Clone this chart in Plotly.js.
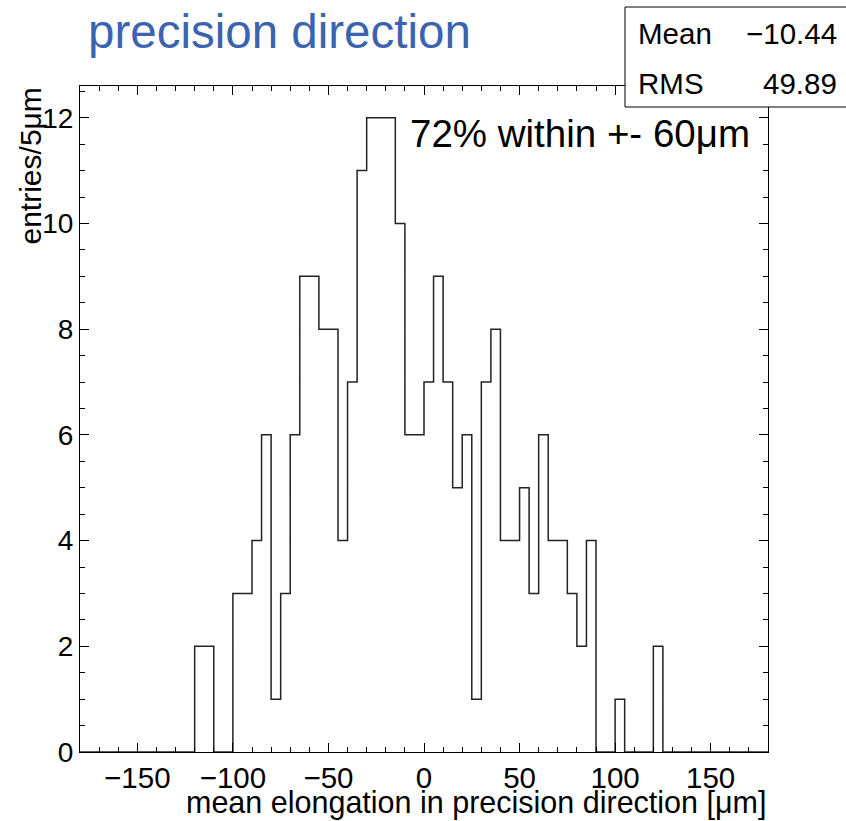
<!DOCTYPE html>
<html>
<head>
<meta charset="utf-8">
<script src="https://cdn.plot.ly/plotly-3.0.1.min.js"></script>
<style>html,body{margin:0;padding:0;background:#fff;}#chart{width:846px;height:821px;}</style>
</head>
<body>
<div id="chart"></div>
<script>
// Histogram: 5 µm bins from -180 to 180
const binStart = -180;
const binWidth = 5;
const counts = [
  0,0,0,0,0,0,0,0,0,0,0,0,      // -180 .. -125
  2,2,0,0,3,3,4,6,1,3,6,9,      // -120 .. -65
  9,8,8,4,7,11,12,12,12,10,6,6, // -60 .. -5
  7,9,7,5,6,1,7,8,4,4,5,3,      // 0 .. 55
  6,4,4,3,2,4,0,0,1,0,0,0,      // 60 .. 115
  2,0,0,0,0,0,0,0,0,0,0,0       // 120 .. 175
];
const xTickVals = [-150,-100,-50,0,50,100,150];
const statsLabels = ["Mean", "RMS"];
const statsValues = ["\u221210.44", "49.89"];
const titleText = "precision direction";
const xTitle = "mean elongation in precision direction [\u03bcm]";
const yTitle = "entries/5\u03bcm";
const noteText = "72% within +- 60\u03bcm";

// step outline from bin edges
const edges = counts.map((c, i) => binStart + i * binWidth);
edges.push(binStart + counts.length * binWidth);
const stepY = counts.slice();
stepY.push(counts[counts.length - 1]);

const FONT = "Liberation Sans, Arial, Helvetica, sans-serif";
const L = 80, R = 768, T = 86, B = 752;
const xp = px => (px - L) / (R - L);
const yp = py => (B - py) / (B - T);

const trace = {
  type: "scatter", mode: "lines",
  x: edges, y: stepY,
  line: {shape: "hv", color: "#222", width: 1.5},
  hoverinfo: "skip", showlegend: false
};

const layout = {
  width: 846, height: 821,
  margin: {l: L, r: 846 - R, t: T, b: 821 - B},
  paper_bgcolor: "#fff", plot_bgcolor: "#fff",
  font: {family: FONT, color: "#000"},
  showlegend: false,
  xaxis: {
    range: [-180, 180], tickvals: xTickVals, ticks: "inside", ticklen: 9, tickwidth: 1,
    tickcolor: "#000", showline: true, linecolor: "#000", linewidth: 1, mirror: "ticks",
    showgrid: false, zeroline: false, tickfont: {size: 29.5, family: FONT},
    minor: {dtick: 10, ticks: "inside", ticklen: 5, tickcolor: "#000", showgrid: false}
  },
  yaxis: {
    range: [0, 12.6], dtick: 2, ticks: "inside", ticklen: 9, tickwidth: 1,
    tickcolor: "#000", showline: true, linecolor: "#000", linewidth: 1, mirror: "ticks",
    showgrid: false, zeroline: false, tickfont: {size: 28, family: FONT},
    minor: {dtick: 0.5, ticks: "inside", ticklen: 5, tickcolor: "#000", showgrid: false}
  },
  shapes: [{
    type: "rect", xref: "paper", yref: "paper", layer: "above",
    x0: xp(625), x1: xp(860), y0: yp(107), y1: yp(7),
    line: {color: "#000", width: 1}, fillcolor: "#fff"
  }],
  annotations: [
    {text: titleText, xref: "paper", yref: "paper", x: xp(86), y: yp(32), xanchor: "left", yanchor: "middle",
     showarrow: false, font: {size: 47.5, color: "rgb(60,99,175)", family: FONT}},
    {text: xTitle, xref: "paper", yref: "paper", x: 1, y: yp(803), xanchor: "right", yanchor: "middle",
     showarrow: false, font: {size: 30.5, family: FONT}},
    {text: yTitle, xref: "paper", yref: "paper", x: xp(30), y: 1, xanchor: "center", yanchor: "top",
     textangle: -90, showarrow: false, font: {size: 30, family: FONT}},
    {text: noteText, xref: "paper", yref: "paper", x: xp(408), y: yp(133), xanchor: "left", yanchor: "middle",
     showarrow: false, font: {size: 38.5, family: FONT}},
    {text: statsLabels[0], xref: "paper", yref: "paper", x: xp(636), y: yp(33), xanchor: "left", yanchor: "middle",
     showarrow: false, font: {size: 29.5, family: FONT}},
    {text: statsValues[0], xref: "paper", yref: "paper", x: xp(839), y: yp(33), xanchor: "right", yanchor: "middle",
     showarrow: false, font: {size: 29.5, family: FONT}},
    {text: statsLabels[1], xref: "paper", yref: "paper", x: xp(636), y: yp(83), xanchor: "left", yanchor: "middle",
     showarrow: false, font: {size: 29.5, family: FONT}},
    {text: statsValues[1], xref: "paper", yref: "paper", x: xp(839), y: yp(83), xanchor: "right", yanchor: "middle",
     showarrow: false, font: {size: 29.5, family: FONT}}
  ]
};

Plotly.newPlot("chart", [trace], layout, {displayModeBar: false, staticPlot: true});
</script>
</body>
</html>
